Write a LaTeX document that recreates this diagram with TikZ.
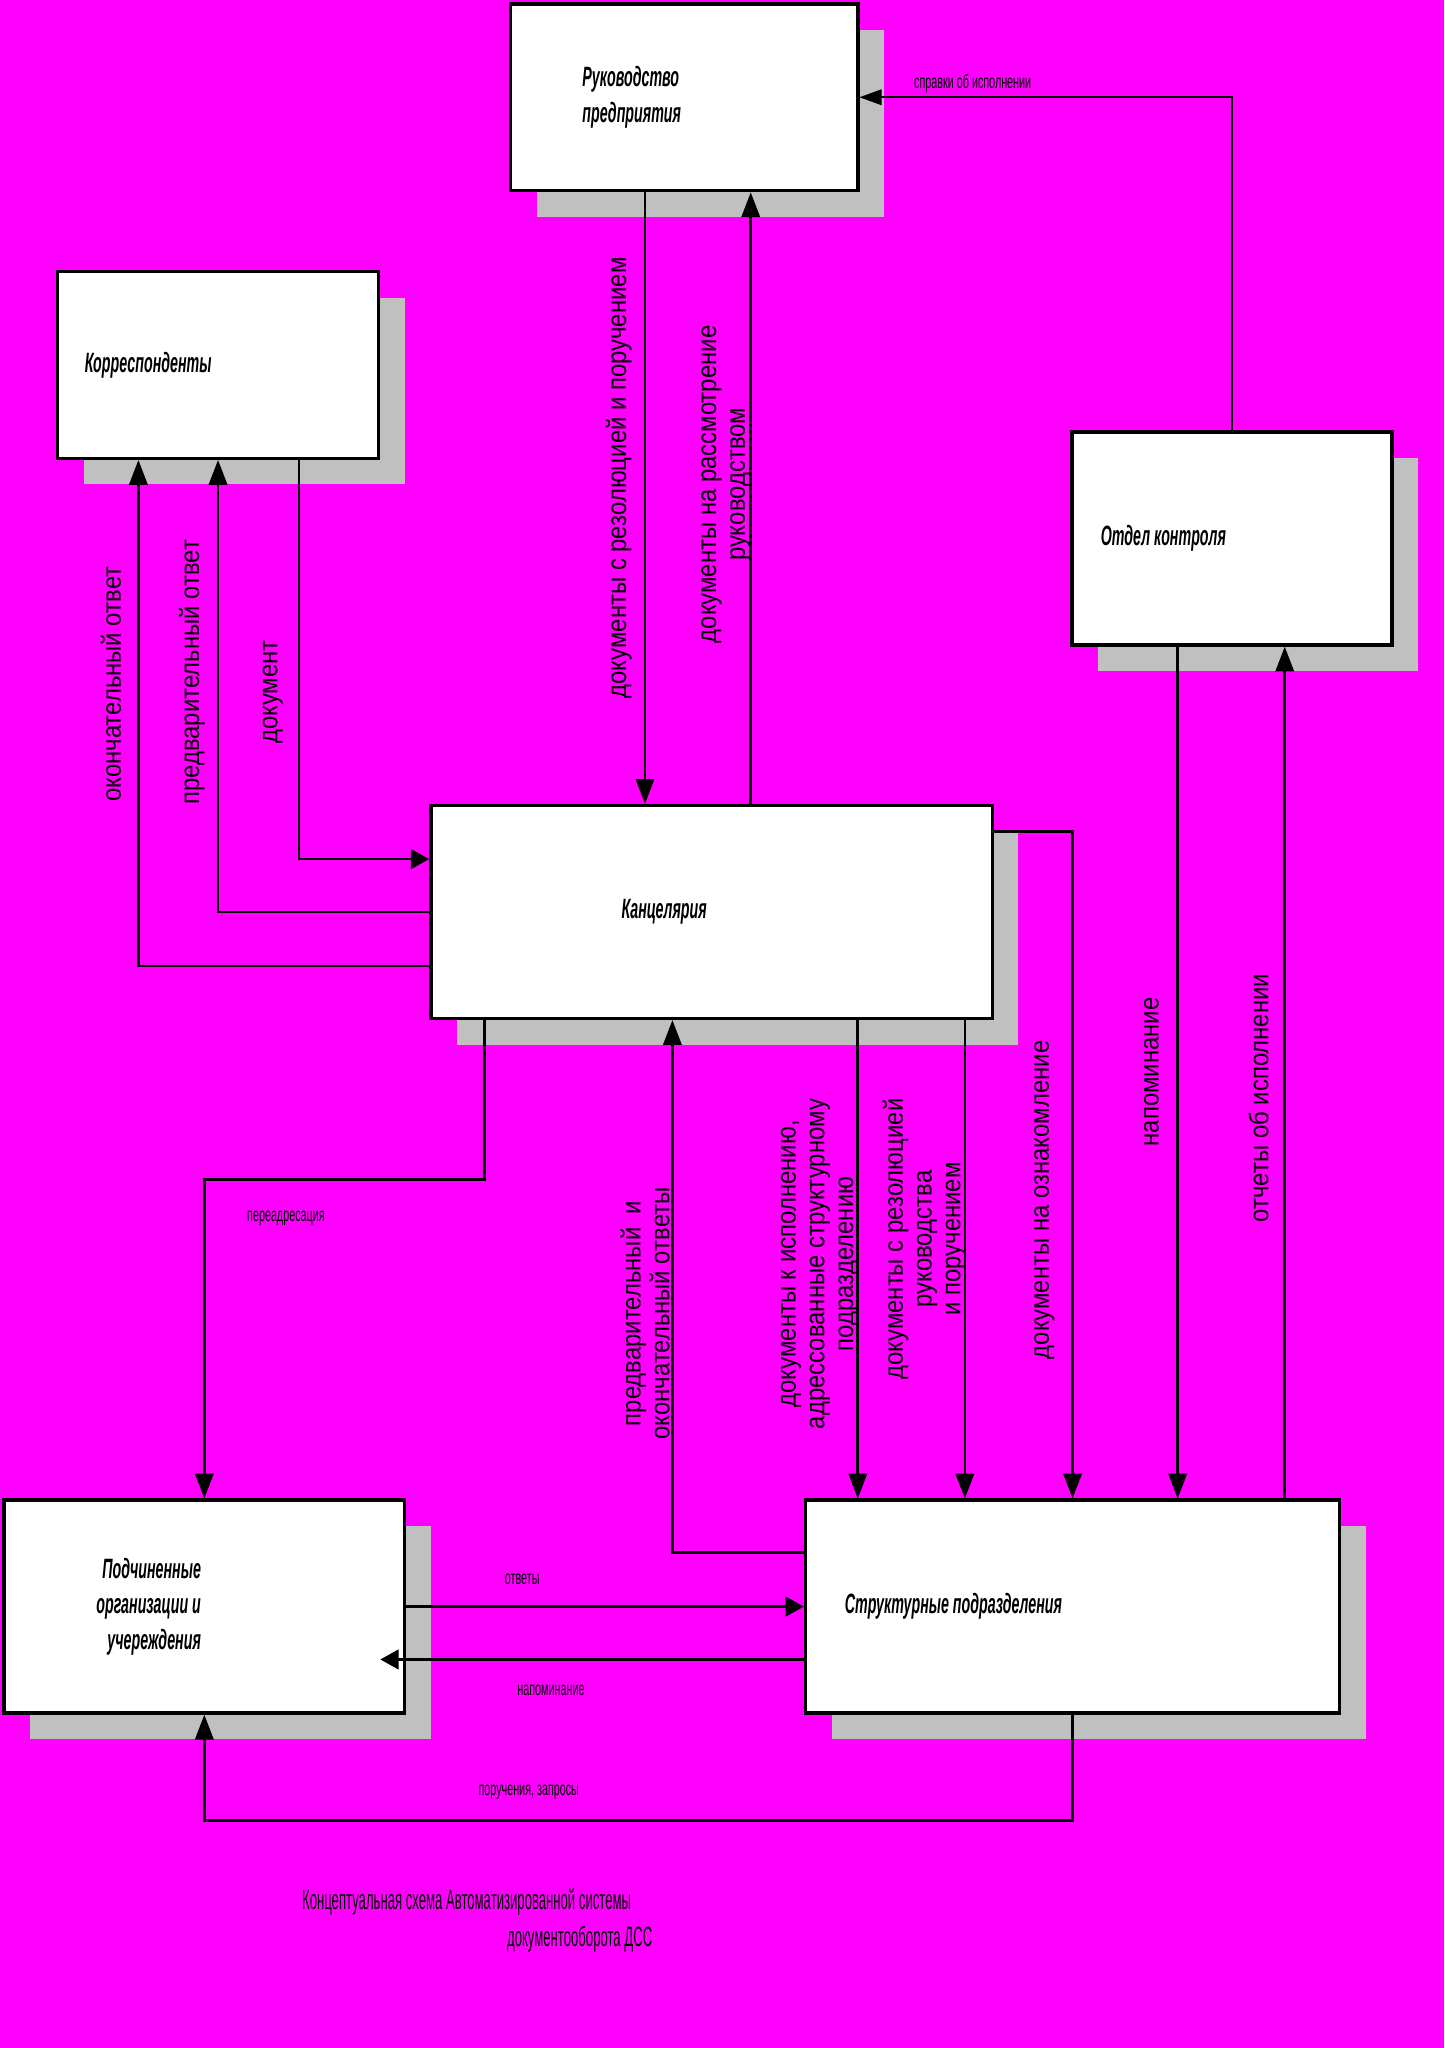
\documentclass[tikz,border=0pt]{standalone}
\usepackage{fontspec}
\setmainfont{Liberation Sans}
\newfontfamily\narrowfont{Liberation Sans}[FakeStretch=0.55]
\newfontfamily\boxfont{Liberation Sans}[FakeStretch=0.51]
\newfontfamily\labelfont{Liberation Sans}[FakeStretch=0.88]
\newfontfamily\capfont{Liberation Sans}[FakeStretch=0.47]
\usetikzlibrary{arrows.meta,positioning,shadows}
\definecolor{bgmagenta}{RGB}{255,0,255}
\definecolor{shadowgray}{RGB}{192,192,192}

\begin{document}
\begin{tikzpicture}[x=0.5pt,y=-0.5pt,
    box/.style={draw, line width=1.3pt, fill=white, inner sep=0pt,
      drop shadow={shadow xshift=10pt, shadow yshift=-10pt, fill=shadowgray, opacity=1}},
    boxtext/.style={inner sep=0pt, font=\boxfont\bfseries\itshape\fontsize{10.7}{13.5}\selectfont},
    flow/.style={line width=1pt},
    tipv/.style={-{Triangle[length=9.5pt,width=7pt]}},
    tiph/.style={-{Triangle[length=7pt,width=7.5pt]}},
    vlabel/.style={rotate=90, align=center, inner sep=0pt, font=\labelfont\fontsize{10.4}{11}\selectfont},
    hlabel/.style={inner sep=0pt, font=\narrowfont\fontsize{7.5}{9}\selectfont}]
  \useasboundingbox (0,0) rectangle (1106,1568.6);
  \fill[bgmagenta] (0,0) rectangle (1106,1568.6);

  % boxes
  \node[box, minimum width=133pt, minimum height=71.5pt] (ruk) at (524,74.5) {};
  \node[boxtext, align=left, right=28pt of ruk.west] (rukt) {Руководство\\предприятия};
  \node[box, minimum width=123pt, minimum height=71.5pt] (korr) at (167,279.5) {};
  \node[boxtext, right=11pt of korr.west] (korrt) {Корреспонденты};
  \node[box, minimum width=122.5pt, minimum height=81.5pt] (otd) at (943.5,412.5) {};
  \node[boxtext, right=11.5pt of otd.west] (otdt) {Отдел контроля};
  \node[box, minimum width=215pt, minimum height=81.5pt] (kanc) at (545,698.5) {};
  \node[boxtext, right=73.5pt of kanc.west] (kanct) {Канцелярия};
  \node[box, minimum width=153.5pt, minimum height=81.5pt] (pod) at (156.5,1230.5) {};
  \node[boxtext, align=right, left=78.5pt of pod.east] (podt) {Подчиненные\\организации и\\учереждения};
  \node[box, minimum width=204.5pt, minimum height=81.5pt] (str) at (821.5,1230.5) {};
  \node[boxtext, right=15.5pt of str.west] (strt) {Структурные подразделения};

  % tap points
  \coordinate (rdown) at ([xshift=-15pt]ruk.south);
  \coordinate (kup) at ([xshift=15pt]kanc.north);
  \coordinate (kdoc) at ([xshift=31pt]korr.south);
  \coordinate (kexec) at ([xshift=56pt]kanc.south);
  \coordinate (kres) at ([xshift=97pt]kanc.south);
  \coordinate (onap) at ([xshift=-20.75pt]otd.south);
  \coordinate (otch) at ([xshift=20.25pt]otd.south);

  % connectors
  \draw[flow, tipv] (rdown) -- (rdown |- kanc.north);
  \draw[flow, tipv] (kup) -- (kup |- ruk.south);
  \draw[line width=0.6pt, -{Triangle[length=8.5pt,width=6pt]}] (otd.north) |- (ruk.east);
  \draw[flow, tiph] (kdoc) |- ([yshift=20.25pt]kanc.west);
  \draw[flow, tipv] (kanc.west) -| (korr.south);
  \draw[flow, tipv] ([yshift=-20.75pt]kanc.west) -| ([xshift=-30.5pt]korr.south);
  \draw[flow, tipv] ([xshift=-87pt]kanc.south) -- ++(0,122) -| (pod.north);
  \draw[flow, tipv] ([yshift=20.75pt]str.west) -| ([xshift=-15pt]kanc.south);
  \draw[flow, tipv] (kexec) -- (kexec |- str.north);
  \draw[flow, tipv] (kres) -- (kres |- str.north);
  \draw[flow, tipv] ([yshift=30.75pt]kanc.east) -| (str.north);
  \draw[flow, tipv] (onap) -- (onap |- str.north);
  \draw[flow, tipv] (otch |- str.north) -- (otch);
  \draw[flow, tiph] (pod.east) -- (str.west);
  \draw[flow, tiph] ([yshift=-20.25pt]str.west) -- ([yshift=-20.25pt, xshift=-10pt]pod.east);
  \draw[flow, tipv] (str.south) -- ++(0,81) -| (pod.south);

  % labels
  \node[vlabel] (lrez) at (474,366) {документы с резолюцией и поручением};
  \node[vlabel] (lrass) at (556,371) {документы на рассмотрение\\руководством};
  \node[hlabel] (lsprav) at (745,64) {справки об исполнении};
  \node[vlabel] (ldoc) at (209,530) {документ};
  \node[vlabel] (lpred) at (147,515) {предварительный ответ};
  \node[vlabel] (lokon) at (85,524) {окончательный ответ};
  \node[hlabel] (lpere) at (219,933) {переадресация};
  \node[vlabel] (lotv) at (494,1006) {предварительный\ \ и\\окончательный ответы};
  \node[vlabel] (lisp) at (628,968) {документы к исполнению,\\адрессованные структурному\\подразделению};
  \node[vlabel] (lruk) at (708,949) {документы с резолюцией\\руководства\\и поручением};
  \node[vlabel] (lozn) at (800,919) {документы на ознакомление};
  \node[vlabel] (lnap) at (882,821) {напоминание};
  \node[vlabel] (lotch) at (964,841) {отчеты об исполнении};
  \node[hlabel] (lotvety) at (400,1210) {ответы};
  \node[hlabel] (lnap2) at (422,1295) {напоминание};
  \node[hlabel] (lporuch) at (405,1373) {поручения, запросы};

  % caption
  \node[inner sep=0pt, anchor=west, font=\capfont\fontsize{10.7}{13}\selectfont] (cap1) at (231,1457) {Концептуальная схема Автоматизированной системы};
  \node[inner sep=0pt, anchor=west, font=\capfont\fontsize{10.7}{13}\selectfont] (cap2) at (388,1485) {документооборота ДСС};
\end{tikzpicture}
\end{document}
